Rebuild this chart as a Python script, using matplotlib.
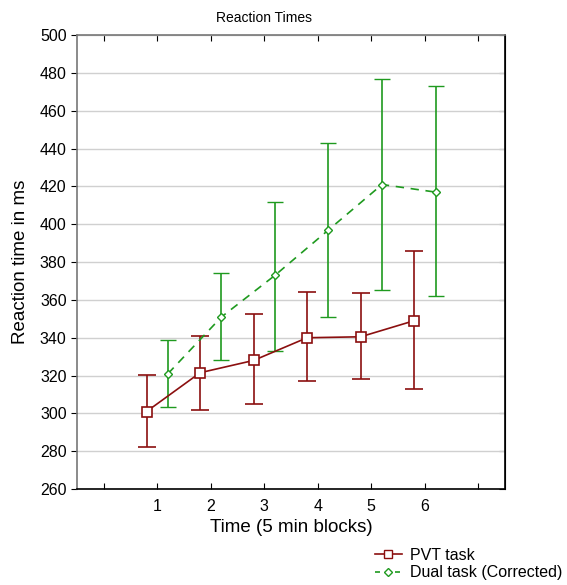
import matplotlib
matplotlib.use("Agg")
import matplotlib.pyplot as plt
from matplotlib.lines import Line2D
import numpy as np

# data
blocks = [1, 2, 3, 4, 5, 6]
pvt_mean = [301, 321.5, 328, 340, 340.5, 349]
pvt_low = [282, 302, 305, 317, 318, 313]
pvt_high = [320.5, 341, 352.5, 364, 363.5, 386]
dual_mean = [321, 351, 373, 397, 421, 417]
dual_low = [303.5, 328, 333, 351, 365, 362]
dual_high = [339, 374, 412, 443, 477, 473]

red = "#8b0f0f"
green = "#1f9a1f"

plt.rcParams["font.family"] = ["Liberation Sans", "DejaVu Sans"]

fig = plt.figure(figsize=(5.67, 5.85), dpi=100)
ax = fig.add_axes([0.1358, 0.164, 0.755, 0.776])

x = np.array(blocks, dtype=float)
off = 0.2

pm = np.array(pvt_mean)
ax.errorbar(x - off, pm, yerr=[pm - np.array(pvt_low), np.array(pvt_high) - pm],
            color=red, lw=1.2, marker="s", ms=7.5, mfc="white", mec=red, mew=1.2,
            capsize=6.5, capthick=1.2, ecolor=red, zorder=3)

dm = np.array(dual_mean)
dash = (0, (5, 4))
ax.errorbar(x + off, dm, yerr=[dm - np.array(dual_low), np.array(dual_high) - dm],
            color=green, lw=1.2, ls=dash, marker="D", ms=4.5, mfc="white", mec=green,
            mew=1.0, capsize=6, capthick=1.2, ecolor=green, zorder=3)

ax.set_xlim(-0.5, 7.5)
ax.set_ylim(260, 500)
ax.set_xticks(range(0, 8))
ax.set_xticklabels([""] + [str(b) for b in blocks] + [""])
ax.set_yticks(range(260, 501, 20))
ax.yaxis.grid(True, color="#d0d0d0", lw=1.0)
ax.set_axisbelow(True)

ax.tick_params(axis="x", direction="in", top=True, length=4, labelsize=11.5, pad=7)
ax.tick_params(axis="y", direction="out", right=False, length=4, labelsize=11.5)
rt = ax.secondary_yaxis("right")
rt.set_yticks(range(260, 501, 20))
rt.tick_params(direction="in", length=4, labelright=False)

for side in ["top", "left"]:
    ax.spines[side].set_color("#777777")
    ax.spines[side].set_linewidth(1.2)
for side in ["bottom", "right"]:
    ax.spines[side].set_color("black")
    ax.spines[side].set_linewidth(1.2)
rt.spines["right"].set_color("black")

ax.set_xlabel("Time (5 min blocks)", fontsize=13.5, labelpad=4)
ax.set_ylabel("Reaction time in ms", fontsize=13.5, labelpad=8)
fig.text(0.465, 0.97, "Reaction Times", ha="center", va="center", fontsize=10)

handles = [
    Line2D([], [], color=red, lw=1.2, marker="s", ms=6, mfc="white", mec=red),
    Line2D([], [], color=green, lw=1.2, ls=(0, (3, 3)), marker="D", ms=4, mfc="white", mec=green),
]
fig.legend(handles, ["PVT task", "Dual task (Corrected)"], loc="lower right",
           bbox_to_anchor=(1.0, 0.0), frameon=False, fontsize=11.5,
           borderaxespad=0.1, borderpad=0.2,
           handlelength=1.7, handletextpad=0.5, labelspacing=0.15)

fig.savefig("out.png", dpi=100)
